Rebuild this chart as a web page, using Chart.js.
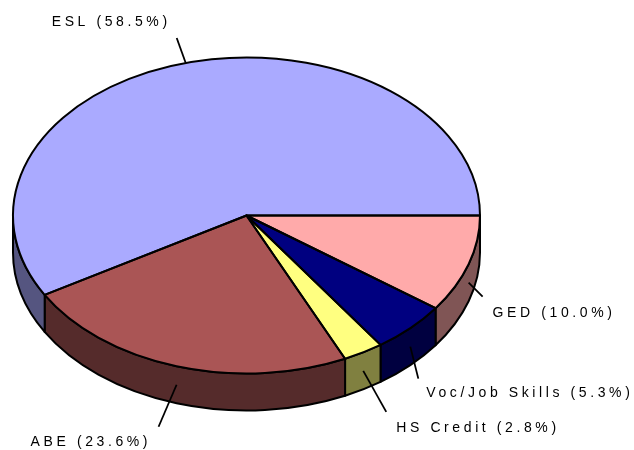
<!DOCTYPE html>
<html>
<head>
<meta charset="utf-8">
<script src="https://cdn.jsdelivr.net/npm/chart.js@4"></script>
<style>
    body { margin: 0; background: #ffffff; }
    canvas { display: block; }
</style>
</head>
<body>
<canvas id="pieChart" width="634" height="450"></canvas>
<script>
// Dados do grafico
const categories = ['GED', 'Voc/Job Skills', 'HS Credit', 'ABE', 'ESL'];
const shares = [10.0, 5.3, 2.8, 23.6, 58.5];
const labelTexts = ['GED (10.0%)', 'Voc/Job Skills (5.3%)', 'HS Credit (2.8%)', 'ABE (23.6%)', 'ESL (58.5%)'];

// Cores (topo e lateral)
const topColors = ['#FFAAAA', '#000080', '#FFFF80', '#AA5555', '#AAAAFF'];
const sideColors = ['#805555', '#000040', '#808040', '#552B2B', '#555580'];

// Posicao das linhas de chamada e textos (relativo ao ponto da fatia)
const leaderOffsets = [[14, 14], [8, 32], [23, 41], [-18, 42], [-9, -25]];
const textOffsets = [[10, 16], [8, 15], [10, 16], [-128, 15], [-125, -16]];

const RX = 233.5;
const RY = 158;
const DEPTH = 37;

const pie3d = {
    id: 'pie3d',
    beforeDatasetsDraw(chart) {
        const ctx = chart.ctx;
        const arcs = chart.getDatasetMeta(0).data;
        const cx = arcs[0].x, cy = arcs[0].y;

        // Parede lateral (so a parte da frente)
        ctx.save();
        ctx.lineWidth = 2;
        ctx.strokeStyle = '#000000';
        ctx.lineJoin = 'round';
        arcs.forEach((arc, i) => {
            const a = Math.max(arc.startAngle, 0);
            const b = Math.min(arc.endAngle, Math.PI);
            if (b <= a) return;
            ctx.beginPath();
            ctx.moveTo(cx + RX * Math.cos(a), cy + RY * Math.sin(a));
            ctx.ellipse(cx, cy, RX, RY, 0, a, b);
            ctx.lineTo(cx + RX * Math.cos(b), cy + RY * Math.sin(b) + DEPTH);
            ctx.ellipse(cx, cy + DEPTH, RX, RY, 0, b, a, true);
            ctx.closePath();
            ctx.fillStyle = sideColors[i];
            ctx.fill();
            ctx.stroke();
        });
        ctx.restore();

        // Inclina o topo
        ctx.save();
        ctx.translate(cx, cy);
        ctx.scale(1, RY / RX);
        ctx.translate(-cx, -cy);
    },
    afterDatasetsDraw(chart) {
        const ctx = chart.ctx;
        ctx.restore();
        const arcs = chart.getDatasetMeta(0).data;
        const cx = arcs[0].x, cy = arcs[0].y;

        // Contorno das fatias
        ctx.save();
        ctx.lineWidth = 2;
        ctx.strokeStyle = '#000000';
        ctx.lineJoin = 'round';
        arcs.forEach(arc => {
            ctx.beginPath();
            ctx.moveTo(cx, cy);
            ctx.lineTo(cx + RX * Math.cos(arc.startAngle), cy + RY * Math.sin(arc.startAngle));
            ctx.ellipse(cx, cy, RX, RY, 0, arc.startAngle, arc.endAngle);
            ctx.closePath();
            ctx.stroke();
        });

        // Rotulos com linhas de chamada
        ctx.font = '14px "Liberation Sans", Arial, sans-serif';
        ctx.letterSpacing = '3.6px';
        ctx.fillStyle = '#000000';
        ctx.textBaseline = 'middle';
        ctx.textAlign = 'left';
        ctx.lineWidth = 1.8;
        arcs.forEach((arc, i) => {
            const mid = (arc.startAngle + arc.endAngle) / 2;
            let sx = cx + RX * Math.cos(mid);
            let sy = cy + RY * Math.sin(mid);
            if (Math.sin(mid) > 0) sy += DEPTH / 2;
            const ex = sx + leaderOffsets[i][0];
            const ey = sy + leaderOffsets[i][1];
            ctx.beginPath();
            ctx.moveTo(sx, sy);
            ctx.lineTo(ex, ey);
            ctx.stroke();
            ctx.fillText(labelTexts[i], ex + textOffsets[i][0], ey + textOffsets[i][1]);
        });
        ctx.restore();
    }
};

const pieCtx = document.getElementById('pieChart').getContext('2d');
const pieChart = new Chart(pieCtx, {
    type: 'pie',
    data: {
        labels: categories,
        datasets: [{
            data: shares,
            backgroundColor: topColors,
            borderWidth: 0
        }]
    },
    options: {
        responsive: false,
        animation: false,
        devicePixelRatio: 1,
        rotation: 90,
        radius: RX,
        layout: {
            padding: { left: 0, right: 141, top: 0, bottom: 19 }
        },
        plugins: {
            legend: { display: false },
            tooltip: { enabled: false }
        }
    },
    plugins: [pie3d]
});
</script>
</body>
</html>
